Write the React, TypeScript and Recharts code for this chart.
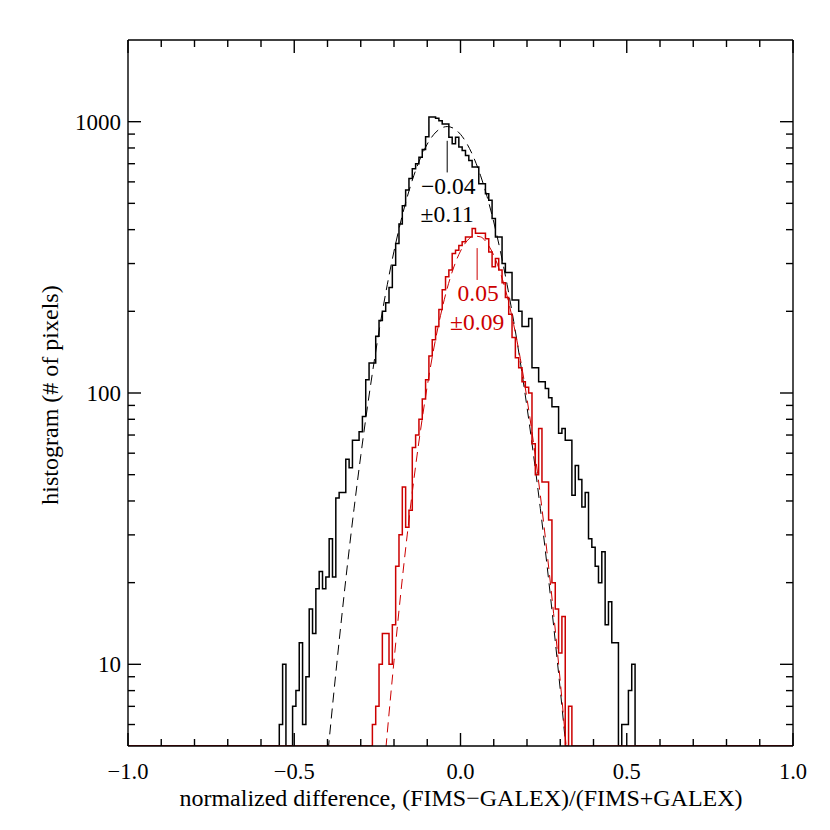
import React from 'react';
import { LineChart, Line, XAxis, YAxis, ReferenceLine, ReferenceDot } from 'recharts';

const FONT = "'Liberation Serif', 'DejaVu Serif', 'Times New Roman', Times, serif";
const RED = '#cc0000';

// histogram binning: bin i centred at BIN_MIN + i * BIN_SIZE
const BIN_MIN = -1;
const BIN_SIZE = 0.01;

// counts per bin (201 bins, -1.00 ... 1.00)
const blackCounts = [
  0, 0, 0, 0, 0, 0, 0, 0, 0, 0,
  0, 0, 0, 0, 0, 0, 0, 0, 0, 0,
  0, 0, 0, 0, 0, 0, 0, 0, 0, 0,
  0, 0, 0, 0, 0, 0, 0, 0, 0, 0,
  0, 0, 0, 0, 0, 0, 6, 10, 0, 0,
  7, 8, 12, 6, 9, 16, 13, 19, 22, 19,
  21, 29, 21, 41, 43, 43, 57, 53, 67, 67,
  72, 82, 112, 129, 129, 162, 185, 200, 215, 245,
  296, 356, 420, 490, 560, 617, 670, 700, 740, 790,
  880, 1040, 1040, 1030, 1008, 980, 980, 876, 829, 876,
  806, 783, 750, 720, 680, 680, 591, 591, 543, 513,
  440, 376, 376, 300, 278, 278, 220, 220, 200, 176,
  176, 188, 124, 124, 110, 110, 104, 96, 89, 89,
  71, 74, 67, 67, 42, 54, 48, 38, 43, 29,
  27, 23, 20, 26, 14, 17, 12, 12, 0, 6,
  6, 8, 10, 0, 0, 0, 0, 0, 0, 0,
  0, 0, 0, 0, 0, 0, 0, 0, 0, 0,
  0, 0, 0, 0, 0, 0, 0, 0, 0, 0,
  0, 0, 0, 0, 0, 0, 0, 0, 0, 0,
  0, 0, 0, 0, 0, 0, 0, 0, 0, 0,
  0,
];

const redCounts = [
  0, 0, 0, 0, 0, 0, 0, 0, 0, 0,
  0, 0, 0, 0, 0, 0, 0, 0, 0, 0,
  0, 0, 0, 0, 0, 0, 0, 0, 0, 0,
  0, 0, 0, 0, 0, 0, 0, 0, 0, 0,
  0, 0, 0, 0, 0, 0, 0, 0, 0, 0,
  0, 0, 0, 0, 0, 0, 0, 0, 0, 0,
  0, 0, 0, 0, 0, 0, 0, 0, 0, 0,
  0, 0, 0, 0, 6, 7, 10, 13, 13, 10,
  14, 23, 30, 45, 32, 37, 63, 70, 80, 95,
  112, 137, 157, 176, 203, 240, 268, 284, 327, 336,
  350, 361, 376, 376, 404, 388, 388, 388, 370, 331,
  292, 313, 284, 255, 225, 195, 160, 135, 124, 110,
  105, 100, 65, 50, 74, 47, 47, 34, 20, 16,
  11, 15, 0, 7, 0, 0, 0, 0, 0, 0,
  0, 0, 0, 0, 0, 0, 0, 0, 0, 0,
  0, 0, 0, 0, 0, 0, 0, 0, 0, 0,
  0, 0, 0, 0, 0, 0, 0, 0, 0, 0,
  0, 0, 0, 0, 0, 0, 0, 0, 0, 0,
  0, 0, 0, 0, 0, 0, 0, 0, 0, 0,
  0, 0, 0, 0, 0, 0, 0, 0, 0, 0,
  0,
];

// Gaussian fit curves (dashed), sampled values
const blackFitX = [
  -0.42, -0.4, -0.38, -0.36, -0.34, -0.32, -0.3, -0.28, -0.26, -0.24,
  -0.22, -0.2, -0.18, -0.16, -0.14, -0.12, -0.1, -0.08, -0.06, -0.04,
  -0.02, 0, 0.02, 0.04, 0.06, 0.08, 0.1, 0.12, 0.14, 0.16,
  0.18, 0.2, 0.22, 0.24, 0.26, 0.28, 0.3, 0.32, 0.34,
];
const blackFitY = [
  2.45, 4.53, 8.07, 13.9, 23.3, 37.6, 58.7, 88.7, 129.8, 183.7,
  251.4, 333.1, 426.7, 529.1, 634.7, 736.2, 826.8, 898.2, 943.8, 959.4,
  943.8, 898.2, 826.8, 736.2, 634.7, 529.1, 426.7, 333.1, 251.4, 183.7,
  129.8, 88.7, 58.7, 37.6, 23.3, 13.9, 8.07, 4.53, 2.45,
];
const redFitX = [
  -0.26, -0.24, -0.22, -0.2, -0.18, -0.16, -0.14, -0.12, -0.1, -0.08,
  -0.06, -0.04, -0.02, 0, 0.02, 0.04, 0.06, 0.08, 0.1, 0.12,
  0.14, 0.16, 0.18, 0.2, 0.22, 0.24, 0.26, 0.28, 0.3, 0.32, 0.34,
];
const redFitY = [
  1.45, 2.93, 5.63, 10.3, 18.1, 30.2, 48.2, 73.2, 106.0, 146.6,
  193.2, 243.0, 291.4, 333.5, 364.0, 378.9, 376.3, 356.4, 321.8, 277.4,
  228.0, 178.7, 133.7, 95.3, 64.9, 42.1, 26.0, 15.4, 8.66, 4.65, 2.38,
];

// fit annotations
const fitMeans = [-0.04, 0.05];
const fitMeanLabels = ['\u22120.04', '0.05'];
const fitSigmaLabels = ['\u00b10.11', '\u00b10.09'];
const fitMarkerTop = [850, 342];
const fitMarkerBottom = [650, 261];
const fitColors = ['#000000', RED];

// axes
const X_DOMAIN: [number, number] = [-1, 1];
const Y_DOMAIN: [number, number] = [5, 2000];
const xTicks = [-1, -0.9, -0.8, -0.7, -0.6, -0.5, -0.4, -0.3, -0.2, -0.1, 0, 0.1, 0.2, 0.3, 0.4, 0.5, 0.6, 0.7, 0.8, 0.9, 1];
const xMajorTicks = [-1, -0.5, 0, 0.5, 1];
const xTickLabels = ['\u22121.0', '\u22120.5', '0.0', '0.5', '1.0'];
const yTicks = [6, 7, 8, 9, 10, 20, 30, 40, 50, 60, 70, 80, 90, 100, 200, 300, 400, 500, 600, 700, 800, 900, 1000];
const yMajorTicks = [10, 100, 1000];
const yTickLabels = ['10', '100', '1000'];
const xTitle = 'normalized difference, (FIMS\u2212GALEX)/(FIMS+GALEX)';
const yTitle = 'histogram (# of pixels)';

const histTable = blackCounts.map((c, i) => ({
  x: BIN_MIN + i * BIN_SIZE,
  black: Math.max(c, Y_DOMAIN[0]),
  red: Math.max(redCounts[i], Y_DOMAIN[0]),
}));
const blackFitData = blackFitX.map((x, i) => ({ x, y: blackFitY[i] }));
const redFitData = redFitX.map((x, i) => ({ x, y: redFitY[i] }));

const MAJOR = 13;
const MINOR = 7;
const AXIS_W = 1.4;
const textStyle = { fontFamily: FONT, fontSize: 23 };
const xTickStyle = { fontFamily: FONT, fontSize: 22.5 };
const titleStyle = { fontFamily: FONT, fontSize: 24 };
const noteStyle = { fontFamily: FONT, fontSize: 23.5 };

const xMajorIndex = (v: number) => xMajorTicks.findIndex((m) => Math.abs(m - v) < 1e-6);
const yMajorIndex = (v: number) => yMajorTicks.findIndex((m) => Math.abs(m - v) < 1e-6);

const BottomTick = (props: any) => {
  const { x, y, payload } = props;
  const idx = xMajorIndex(payload.value);
  const len = idx >= 0 ? MAJOR : MINOR;
  return (
    <g>
      <line x1={x} x2={x} y1={y} y2={y - len} stroke="#000" strokeWidth={AXIS_W} />
      {idx >= 0 && (
        <text x={x} y={y + 32.5} textAnchor="middle" style={xTickStyle} fill="#000">
          {xTickLabels[idx]}
        </text>
      )}
    </g>
  );
};

const TopTick = (props: any) => {
  const { x, y, payload } = props;
  const len = xMajorIndex(payload.value) >= 0 ? MAJOR : MINOR;
  return <line x1={x} x2={x} y1={y} y2={y + len} stroke="#000" strokeWidth={AXIS_W} />;
};

const LeftTick = (props: any) => {
  const { x, y, payload } = props;
  const idx = yMajorIndex(payload.value);
  const len = idx >= 0 ? MAJOR : MINOR;
  return (
    <g>
      <line x1={x} x2={x + len} y1={y} y2={y} stroke="#000" strokeWidth={AXIS_W} />
      {idx >= 0 && (
        <text x={x - 7} y={y + 8} textAnchor="end" style={textStyle} fill="#000">
          {yTickLabels[idx]}
        </text>
      )}
    </g>
  );
};

const RightTick = (props: any) => {
  const { x, y, payload } = props;
  const len = yMajorIndex(payload.value) >= 0 ? MAJOR : MINOR;
  return <line x1={x} x2={x - len} y1={y} y2={y} stroke="#000" strokeWidth={AXIS_W} />;
};

const makeNoteShape = (k: number) => (props: any) => {
  const { cx, cy } = props;
  return (
    <g>
      <text x={cx + 1} y={cy + 21.5} textAnchor="middle" style={noteStyle} fill={fitColors[k]}>
        {fitMeanLabels[k]}
      </text>
      <text x={cx} y={cy + 50} textAnchor="middle" style={noteStyle} fill={fitColors[k]}>
        {fitSigmaLabels[k]}
      </text>
    </g>
  );
};

export default function App() {
  return (
    <div style={{ width: 814, height: 814, fontFamily: FONT }}>
      <LineChart
        width={814}
        height={814}
        data={histTable}
        margin={{ top: 31, right: 28, bottom: 0, left: 0 }}
      >
        <XAxis
          xAxisId="bottom"
          dataKey="x"
          type="number"
          domain={X_DOMAIN}
          allowDataOverflow
          ticks={xTicks}
          interval={0}
          height={76}
          tickSize={0}
          tickMargin={0}
          tickLine={false}
          axisLine={{ stroke: '#000', strokeWidth: AXIS_W }}
          tick={<BottomTick />}
        />
        <XAxis
          xAxisId="top"
          dataKey="x"
          orientation="top"
          type="number"
          domain={X_DOMAIN}
          allowDataOverflow
          ticks={xTicks}
          interval={0}
          height={1}
          tickSize={0}
          tickMargin={0}
          tickLine={false}
          axisLine={{ stroke: '#000', strokeWidth: AXIS_W }}
          tick={<TopTick />}
        />
        <YAxis
          yAxisId="left"
          type="number"
          scale="log"
          domain={Y_DOMAIN}
          allowDataOverflow
          ticks={yTicks}
          interval={0}
          width={120}
          tickSize={0}
          tickMargin={0}
          tickLine={false}
          axisLine={{ stroke: '#000', strokeWidth: AXIS_W }}
          tick={<LeftTick />}
        />
        <YAxis
          yAxisId="right"
          orientation="right"
          type="number"
          scale="log"
          domain={Y_DOMAIN}
          allowDataOverflow
          ticks={yTicks}
          interval={0}
          width={1}
          tickSize={0}
          tickMargin={0}
          tickLine={false}
          axisLine={{ stroke: '#000', strokeWidth: AXIS_W }}
          tick={<RightTick />}
        />

        {/* invisible series that binds the mirrored top/right axes to the same data */}
        <Line
          xAxisId="top"
          yAxisId="right"
          dataKey="black"
          type="step"
          stroke="none"
          dot={false}
          activeDot={false}
          isAnimationActive={false}
        />

        <Line
          xAxisId="bottom"
          yAxisId="left"
          dataKey="black"
          type="step"
          stroke="#000"
          strokeWidth={1.5}
          dot={false}
          isAnimationActive={false}
        />
        <Line
          xAxisId="bottom"
          yAxisId="left"
          data={blackFitData}
          dataKey="y"
          type="monotone"
          stroke="#000"
          strokeWidth={1}
          strokeDasharray="10 6"
          dot={false}
          isAnimationActive={false}
        />
        <Line
          xAxisId="bottom"
          yAxisId="left"
          dataKey="red"
          type="step"
          stroke={RED}
          strokeWidth={1.5}
          dot={false}
          isAnimationActive={false}
        />
        <Line
          xAxisId="bottom"
          yAxisId="left"
          data={redFitData}
          dataKey="y"
          type="monotone"
          stroke={RED}
          strokeWidth={1}
          strokeDasharray="10 6"
          dot={false}
          isAnimationActive={false}
        />

        {fitMeans.map((m, k) => (
          <ReferenceLine
            key={'seg' + k}
            xAxisId="bottom"
            yAxisId="left"
            segment={[
              { x: m, y: fitMarkerTop[k] },
              { x: m, y: fitMarkerBottom[k] },
            ]}
            stroke={fitColors[k]}
            strokeWidth={1}
          />
        ))}
        {fitMeans.map((m, k) => (
          <ReferenceDot
            key={'note' + k}
            xAxisId="bottom"
            yAxisId="left"
            x={m}
            y={fitMarkerBottom[k]}
            r={0}
            shape={makeNoteShape(k)}
          />
        ))}

        <text x={453} y={798} textAnchor="middle" style={titleStyle} fill="#000">
          {xTitle}
        </text>
        <text
          x={0}
          y={0}
          transform="translate(50 387) rotate(-90)"
          textAnchor="middle"
          style={titleStyle}
          fill="#000"
        >
          {yTitle}
        </text>
      </LineChart>
    </div>
  );
}
